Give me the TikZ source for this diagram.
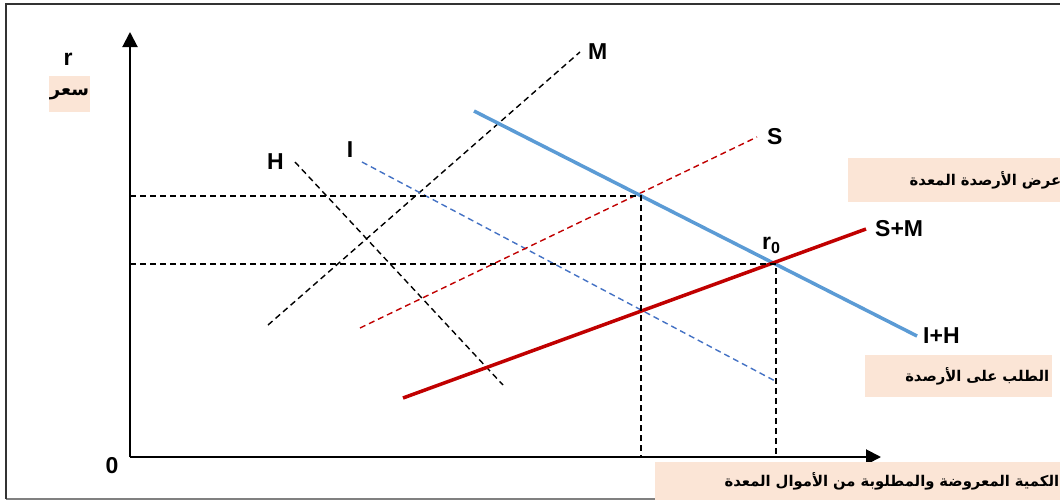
\documentclass[tikz,border=0pt]{standalone}
\usepackage{fontspec}
\setmainfont{Liberation Sans}
\newfontfamily\arabicfont[Script=Arabic]{DejaVu Sans}
\TeXXeTstate=1
\usetikzlibrary{arrows.meta,positioning}
\definecolor{Peach}{RGB}{251,229,214}
\definecolor{CurveBlue}{RGB}{91,155,213}
\definecolor{DashBlue}{RGB}{68,114,196}
\definecolor{CurveRed}{RGB}{192,0,0}

\begin{document}
\begin{tikzpicture}[
x=1pt,y=-1pt,
axis/.style={line width=2pt,-{Triangle[length=15pt,width=15pt]}},
guide/.style={line width=1.4pt,dash pattern=on 6pt off 4pt},
curve/.style={line width=3.5pt},
lbl/.style={font=\fontsize{23}{23}\selectfont\bfseries,inner sep=0pt},
tagbox/.style={
fill=Peach,
anchor=north west,
align=right,
inner xsep=3pt,
inner ysep=0pt,
font=\fontsize{14.8}{14.8}\selectfont\arabicfont\bfseries
}
]
\useasboundingbox (0,0) rectangle (1060,501);
\draw[line width=1.5pt,gray] (6,499) -- (1066,499);
\draw[line width=1.5pt,black!80] (6,499) -- (6,4) -- (1066,4);

% axes
\coordinate (o) at (130,457);
\coordinate (ytop) at (130,32);
\coordinate (xend) at (881,457);
\draw[axis] (o) -- (ytop);
\draw[axis] (o) -- (xend);
\node[lbl] (zero) at (112,466) {0};
\node[lbl] (rate) at (68,59) {r};
\node[fill=Peach,minimum width=41pt,minimum height=36pt,inner sep=0pt,
font=\fontsize{18}{18}\selectfont\arabicfont\bfseries] (ratear) at (69.5,94) {\beginR سعر\endR};

% thin dashed schedules
\coordinate (m1) at (268,325); \coordinate (m2) at (580,52);
\coordinate (h1) at (295,162); \coordinate (h2) at (503,385);
\coordinate (i1) at (362,162); \coordinate (i2) at (777,382);
\coordinate (s1) at (360,328); \coordinate (s2) at (757,137);
\draw[guide] (m1) -- (m2);
\draw[guide] (h1) -- (h2);
\draw[guide,DashBlue] (i1) -- (i2);
\draw[guide,CurveRed] (s1) -- (s2);
\node[lbl,right=8pt of m2] (mlbl) {M};
\node[lbl,left=11pt of h1] (hlbl) {H};
\node[lbl] (ilbl) at (350,150) {I};
\node[lbl,right=10pt of s2] (slbl) {S};

% aggregate curves
\coordinate (ih1) at (474,111); \coordinate (ih2) at (917,336);
\coordinate (sm1) at (403,398); \coordinate (sm2) at (866,229);
\draw[curve,CurveBlue] (ih1) -- (ih2);
\draw[curve,CurveRed] (sm1) -- (sm2);
\node[lbl,right=9pt of sm2] (smlbl) {S+M};
\node[lbl,right=6pt of ih2] (ihlbl) {I+H};

% equilibrium guides
\coordinate (pa) at (641,196);
\coordinate (r0) at (776,264);
\coordinate (ya) at (130,196);
\coordinate (yb) at (130,264);
\coordinate (xa) at (641,457);
\coordinate (xb) at (776,457);
\draw[guide] (ya) -- (pa) -- (xa);
\draw[guide] (yb) -- (r0) -- (xb);
\node[lbl] (r0lbl) at (771,245) {r\raisebox{-4pt}{\fontsize{16}{16}\selectfont 0}};

% legend boxes
\node[tagbox,text width=210pt,minimum height=44pt] (supply) at (848,158)
{\beginR عرض الأرصدة المعدة\endR};
\node[tagbox,text width=181pt,minimum height=42pt] (demand) at (865,355)
{\beginR الطلب على الأرصدة\endR};
\node[tagbox,text width=401pt,minimum height=38pt] (qty) at (655,462)
{\beginR الكمية المعروضة والمطلوبة من الأموال المعدة\endR};
\end{tikzpicture}
\end{document}
